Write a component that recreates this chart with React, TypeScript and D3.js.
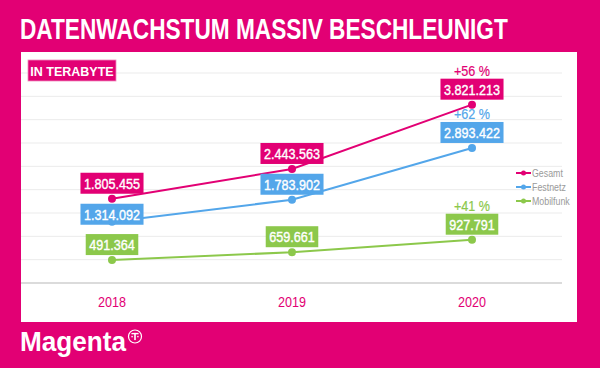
import React from "react";
import * as d3 from "d3";

const years = ["2018", "2019", "2020"];
const seriesNames = ["Gesamt", "Festnetz", "Mobilfunk"];
const gesamt = [1805455, 2443563, 3821213];
const festnetz = [1314092, 1783902, 2893422];
const mobilfunk = [491364, 659661, 927791];
const growth = ["+56 %", "+62 %", "+41 %"];
const yTicks = [0, 500000, 1000000, 1500000, 2000000, 2500000, 3000000, 3500000, 4000000, 4500000];
const title = "DATENWACHSTUM MASSIV BESCHLEUNIGT";
const unitLabel = "IN TERABYTE";
const brand = "Magenta";

const MAGENTA = "#E20074";
const BLUE = "#53A6EA";
const GREEN = "#8CC84B";
const colors = [MAGENTA, BLUE, GREEN];
const FONT = "'Liberation Sans', Arial, sans-serif";
const SQUEEZE = 0.84;

const fmt = (v: number) => d3.format(",")(v).replace(/,/g, ".");

let ctx: CanvasRenderingContext2D | null = null;
function measure(text: string, size: number, weight = "normal") {
  if (!ctx) ctx = document.createElement("canvas").getContext("2d");
  if (!ctx) return text.length * size * 0.55;
  ctx.font = `${weight} ${size}px ${FONT}`;
  return ctx.measureText(text).width;
}

function Narrow(props: { x: number; y: number; size: number; fill: string; anchor?: string; weight?: string; bold?: number; children: string }) {
  const { x, y, size, fill, anchor = "start", weight = "normal", bold = 0, children } = props;
  const w = measure(children, size, weight) * SQUEEZE;
  const sx = anchor === "middle" ? x - w / 2 : anchor === "end" ? x - w : x;
  return (
    <text x={sx} y={y} fill={fill} fontFamily={FONT} fontSize={size} fontWeight={weight}
      stroke={bold ? fill : "none"} strokeWidth={bold}
      textLength={w} lengthAdjust="spacingAndGlyphs">{children}</text>
  );
}

export default function App() {
  const W = 600, H = 368;
  const x = d3.scaleBand().domain(years).range([22, 562]);
  const y = d3.scaleLinear().domain([0, 4500000]).range([283, 73]);
  const cx = (yr: string) => (x(yr) ?? 0) + x.bandwidth() / 2;
  const data = [gesamt, festnetz, mobilfunk];
  const line = d3.line<number>().x((_, i) => cx(years[i])).y((d) => y(d));

  const labelSize = 15;
  const boxH = 21;
  const labels: { x: number; y: number; w: number; text: string; color: string; s: number; i: number }[] = [];
  data.forEach((vals, s) => {
    vals.forEach((v, i) => {
      const px = cx(years[i]);
      const py = y(v);
      let top = py - 5 - boxH;
      for (let o = 0; o < s; o++) {
        const oy = y(data[o][i]);
        if (oy + 4 > top && oy - 4 < top + boxH) top = oy + 5;
      }
      const text = fmt(v);
      const w = measure(text, labelSize) * SQUEEZE + 7;
      labels.push({ x: px - w / 2, y: top, w, text, color: colors[s], s, i });
    });
  });

  const titleW = measure(title, 28, "bold");
  const titleScale = 488 / titleW;

  return (
    <svg width={W} height={H} style={{ display: "block", position: "absolute", left: 0, top: 0 }}>
      <rect x={0} y={0} width={W} height={H} fill={MAGENTA} />
      <text transform={`translate(20,39) scale(${titleScale},1.03)`} x={0} y={0} fill="#fff" fontFamily={FONT}
        fontWeight="bold" fontSize={28}>{title}</text>
      <rect x={21} y={52} width={556} height={270} fill="#fff" />
      {yTicks.slice(1).map((t) => (
        <line key={t} x1={21} x2={562} y1={y(t)} y2={y(t)} stroke="#EBEBEB" strokeWidth={1} />
      ))}
      <line x1={21} x2={562} y1={y(0)} y2={y(0)} stroke="#CFCFCF" strokeWidth={1.5} />
      <rect x={28} y={60} width={88} height={21} fill={MAGENTA} stroke="#F08CBF" strokeWidth={0.8} />
      <text x={72} y={75.5} textAnchor="middle" fill="#fff" fontFamily={FONT}
        fontWeight="bold" fontSize={12.5}>{unitLabel}</text>
      {years.map((yr) => (
        <Narrow key={yr} x={cx(yr)} y={307} anchor="middle" fill={MAGENTA} size={15}>{yr}</Narrow>
      ))}
      {data.map((vals, s) => (
        <g key={s}>
          <path d={line(vals) ?? ""} fill="none" stroke={colors[s]} strokeWidth={2} />
          {vals.map((v, i) => (
            <circle key={i} cx={cx(years[i])} cy={y(v)} r={4} fill={colors[s]} />
          ))}
        </g>
      ))}
      {labels.map((l, k) => (
        <g key={k}>
          <rect x={l.x} y={l.y} width={l.w} height={boxH} fill={l.color} />
          <Narrow x={l.x + l.w / 2} y={l.y + 16} anchor="middle" fill="#fff" size={labelSize} bold={0.4}>{l.text}</Narrow>
          {l.i === years.length - 1 && (
            <Narrow x={l.x + l.w / 2} y={l.y - 3} anchor="middle" fill={l.color} size={labelSize} bold={0.2}>{growth[l.s]}</Narrow>
          )}
        </g>
      ))}
      {seriesNames.map((n, s) => (
        <g key={n} transform={`translate(516,${173 + s * 14})`}>
          <line x1={0} x2={15} y1={0} y2={0} stroke={colors[s]} strokeWidth={2} />
          <circle cx={7.5} cy={0} r={2.5} fill={colors[s]} />
          <Narrow x={16} y={3.5} fill="#9A9A9A" size={10.5}>{n}</Narrow>
        </g>
      ))}
      <text x={20} y={351} fill="#fff" fontFamily={FONT} fontWeight="bold"
        fontSize={27} textLength={106} lengthAdjust="spacingAndGlyphs">{brand}</text>
      <g transform="translate(135,336.5)">
        <circle r={6.5} fill="none" stroke="#fff" strokeWidth={1.2} />
        <rect x={-3.6} y={-3.6} width={7.2} height={1.4} fill="#fff" />
        <rect x={-0.8} y={-3.6} width={1.6} height={7.2} fill="#fff" />
        <rect x={-3.6} y={-0.6} width={1.4} height={1.4} fill="#fff" />
        <rect x={2.2} y={-0.6} width={1.4} height={1.4} fill="#fff" />
      </g>
    </svg>
  );
}
